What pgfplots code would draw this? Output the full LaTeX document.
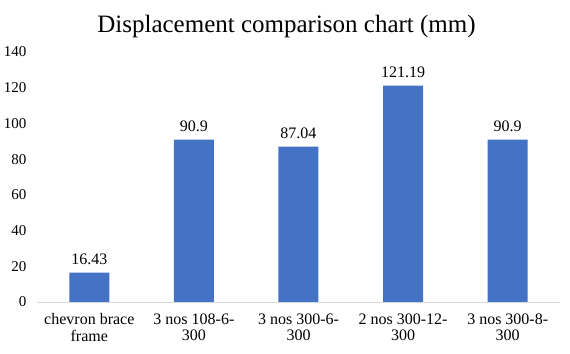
\documentclass[border=0pt]{standalone}
\usepackage{pgfplots}
\pgfplotsset{compat=1.18}
\usepackage{fontspec}
\setmainfont{Liberation Serif}
\definecolor{barblue}{HTML}{4472C4}
\definecolor{basegray}{HTML}{D9D9D9}
\begin{document}
\begin{tikzpicture}
\begin{axis}[
  at={(0,0)}, anchor=south west,
  scale only axis,
  width=523bp, height=250bp,
  xmin=-0.5, xmax=4.5,
  ymin=0, ymax=140,
  ytick={0,20,...,140},
  xtick=data,
  xticklabels={chevron brace\\frame, 3 nos 108-6-\\300, 3 nos 300-6-\\300, 2 nos 300-12-\\300, 3 nos 300-8-\\300},
  xticklabel style={align=center, font=\fontsize{16bp}{16.5bp}\selectfont, yshift=-8bp},
  yticklabel style={font=\fontsize{15bp}{17bp}\selectfont, xshift=-7bp},
  /pgf/number format/assume math mode=true,
  axis line style={draw=none},
  major tick length=0pt,
  title={Displacement comparison chart (mm)},
  title style={font=\fontsize{25bp}{29bp}\selectfont, yshift=5bp, xshift=-12bp},
  ybar, bar width=40bp,
  nodes near coords,
  every node near coord/.append style={font=\fontsize{16bp}{18bp}\selectfont, black, yshift=4bp},
  point meta=explicit symbolic,
  clip=false,
]
\addplot[draw=none, fill=barblue] coordinates {
  (0,16.43) [16.43]
  (1,90.9) [90.9]
  (2,87.04) [87.04]
  (3,121.19) [121.19]
  (4,90.9) [90.9]
};
\draw[basegray, line width=0.8bp] (axis cs:-0.5,0) -- (axis cs:4.5,0);
\end{axis}
\path (-37bp,-52bp) rectangle (533bp,302bp);
\end{tikzpicture}
\end{document}
